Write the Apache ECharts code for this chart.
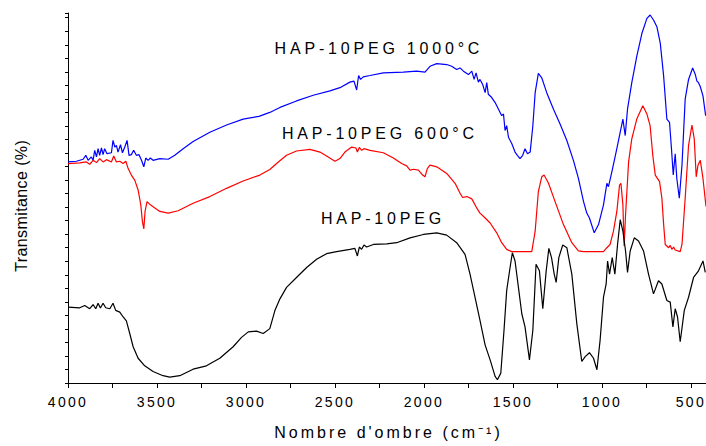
<!DOCTYPE html>
<html><head><meta charset="utf-8">
<script src="https://cdn.jsdelivr.net/npm/echarts@6/dist/echarts.min.js"></script>
<style>html,body{margin:0;padding:0;background:#fff}#c{width:706px;height:446px}</style>
</head><body><div id="c"></div>
<script>
// ---- tick marks / labels (wavenumber, cm-1) ----
const xTickValues = [4000,3750,3500,3250,3000,2750,2500,2250,2000,1750,1500,1250,1000,750,500];
const xTickLabels = [4000,3500,3000,2500,2000,1500,1000,500];

// ---- series labels ----
const seriesNames = ['HAP-10PEG 1000°C', 'HAP-10PEG 600°C', 'HAP-10PEG'];

// ---- HAP-10PEG (black) ----
const hapWn = [4000,3934,3906,3878,3859,3844,3831,3818,3803,3788,3765,3747,3732,3709,3690,3672,3653,3634,3606,3569,3522,3466,3428,3372,3297,3222,3147,3072,3025,2987,2941,2903,2866,2837,2809,2772,2716,2659,2603,2547,2491,2416,2388,2374,2363,2350,2337,2322,2284,2209,2153,2078,2003,1928,1872,1816,1769,1741,1713,1685,1656,1628,1600,1587,1568,1550,1535,1516,1503,1488,1469,1450,1432,1407,1388,1370,1351,1332,1313,1298,1283,1268,1257,1242,1220,1197,1169,1141,1113,1094,1070,1047,1028,1010,991,976,968,957,942,927,912,897,882,867,856,841,818,794,766,738,710,682,663,635,616,601,588,575,560,537,513,485,457,432,419];
const hapT = [5.61,5.56,5.73,5.49,5.80,5.49,5.90,5.54,5.90,5.56,5.49,5.90,5.37,5.24,4.88,4.59,3.66,2.68,1.83,1.27,0.85,0.54,0.44,0.54,1.02,1.27,1.83,2.68,3.37,3.78,3.83,3.66,4.02,5.37,6.22,7.07,7.80,8.54,9.15,9.56,9.71,9.88,9.95,9.39,10.05,9.88,10.20,10.05,10.24,10.29,10.37,10.73,10.98,11.10,10.93,10.37,9.51,8.05,6.34,4.63,2.80,1.71,0.49,0.24,0.73,3.90,6.83,8.54,9.63,9.02,7.07,5.12,4.15,1.71,3.90,8.78,8.29,5.49,8.29,9.95,9.27,8.05,7.44,9.27,10.20,10.00,8.05,4.39,1.59,1.95,2.24,1.83,0.98,3.17,6.34,7.32,9.02,8.05,9.27,8.05,10.24,12.07,11.22,9.76,8.17,9.76,10.73,10.49,9.76,8.05,6.59,7.56,7.32,6.10,5.98,4.15,5.49,4.88,3.05,5.37,6.34,7.80,8.29,9.02,8.17];

// ---- HAP-10PEG 600°C (red) ----
const h600Wn = [4000,3934,3897,3878,3859,3840,3822,3803,3784,3756,3743,3728,3709,3690,3675,3662,3644,3625,3606,3591,3582,3574,3567,3556,3537,3512,3484,3437,3381,3297,3203,3109,3016,2922,2866,2828,2772,2716,2641,2584,2538,2500,2472,2444,2406,2382,2374,2363,2350,2337,2303,2228,2172,2125,2097,2078,2059,2031,2007,1994,1981,1966,1928,1872,1825,1797,1782,1759,1731,1703,1685,1656,1628,1591,1563,1535,1507,1394,1375,1357,1338,1325,1300,1263,1216,1169,1132,1103,991,972,954,935,916,901,893,882,875,867,850,832,804,770,747,729,714,700,676,663,653,644,625,616,607,597,588,560,550,532,513,494,481,470,460,447,432,415];
const h600T = [16.22,16.27,16.34,16.17,16.46,16.29,16.59,16.34,16.51,16.34,16.78,16.34,16.39,16.22,16.39,15.85,15.37,15.00,14.27,13.17,11.95,11.39,12.68,13.41,13.17,12.93,12.68,12.56,12.73,13.29,13.78,14.39,14.93,15.37,15.78,16.22,16.83,17.15,17.27,17.07,16.71,16.39,16.59,17.07,17.44,17.37,17.07,17.41,17.20,17.32,17.20,17.02,16.63,16.22,16.05,15.73,15.80,15.73,15.37,15.24,15.85,16.10,15.98,15.49,14.76,14.02,13.71,13.78,13.61,12.93,12.56,12.20,11.83,11.10,10.37,9.88,9.71,9.71,11.22,14.15,15.24,15.37,14.76,13.41,11.71,10.37,9.76,9.71,9.71,10.00,10.24,11.22,12.68,14.63,14.76,13.17,10.12,12.44,16.34,18.05,19.51,20.49,19.88,19.02,16.83,15.37,14.88,13.66,11.71,10.24,10.00,10.17,9.88,10.05,9.83,9.71,10.24,13.66,17.56,19.07,18.05,15.24,16.10,16.46,15.12,13.05];

// ---- HAP-10PEG 1000°C (blue) ----
const h1000Wn = [4000,3953,3915,3900,3887,3869,3859,3850,3840,3831,3822,3812,3803,3794,3781,3756,3747,3737,3728,3719,3705,3694,3681,3668,3657,3644,3631,3616,3601,3587,3574,3563,3550,3537,3522,3484,3437,3400,3353,3297,3203,3109,3016,2927,2866,2809,2716,2622,2528,2472,2416,2393,2378,2367,2356,2341,2303,2228,2116,2041,1994,1966,1928,1872,1844,1816,1797,1778,1750,1731,1718,1707,1694,1685,1670,1656,1647,1638,1619,1600,1581,1563,1553,1544,1535,1525,1506,1488,1475,1460,1445,1432,1418,1403,1388,1375,1357,1338,1310,1272,1235,1197,1160,1132,1103,1085,1070,1043,1019,991,972,963,944,916,897,882,869,856,832,804,775,747,729,710,691,672,653,635,620,609,599,588,579,565,550,532,513,490,475,466,457,447,432,417];
const h1000T = [16.34,16.39,16.54,16.83,16.46,16.71,16.46,17.20,16.71,17.32,16.83,17.37,16.88,17.32,16.95,17.02,17.93,17.44,17.56,17.07,17.61,17.02,17.44,17.93,16.83,16.88,17.20,16.83,16.88,16.46,15.98,16.63,16.46,16.63,16.46,16.59,16.54,16.83,17.32,17.85,18.54,19.07,19.51,19.71,20.00,20.37,20.85,21.27,21.59,21.83,22.24,22.32,21.66,22.73,22.44,22.63,22.73,22.93,22.98,23.05,22.98,23.41,23.61,23.54,23.41,23.17,23.29,23.05,22.80,23.05,22.44,22.93,22.24,22.44,22.07,21.46,22.20,21.34,21.10,20.73,20.24,19.76,19.88,18.66,19.02,18.17,17.68,17.07,16.83,16.59,16.83,17.32,16.95,17.07,19.02,21.46,22.88,22.56,21.46,20.24,19.15,17.93,16.46,15.12,13.41,12.56,12.20,11.10,11.71,13.17,14.76,14.51,15.61,17.32,18.54,19.51,18.29,20.24,22.20,24.15,25.85,26.95,27.20,26.83,26.34,25.12,22.68,19.51,19.27,17.32,15.37,16.95,15.12,13.66,16.10,20.98,22.44,23.29,22.80,22.32,22.20,21.90,21.22,19.76];

const pairs = (w, t) => w.map((x, i) => [x, t[i]]);
const FONT = "'Liberation Sans', Arial, sans-serif";

const chart = echarts.init(document.getElementById('c'), null, {renderer: 'svg', width: 706, height: 446});
chart.setOption({
  animation: false,
  backgroundColor: '#ffffff',
  grid: {left: 68, right: 0, top: 13, bottom: 59, containLabel: false},
  xAxis: {
    type: 'value', inverse: true, min: 415, max: 4000,
    name: "Nombre d'ombre (cm⁻¹)", nameLocation: 'middle', nameGap: 40,
    nameTextStyle: {fontFamily: FONT, fontSize: 16, color: '#000', lineHeight: 18},
    axisLine: {show: true, lineStyle: {color: '#000', width: 1}},
    axisTick: {show: true, length: 5, lineStyle: {color: '#000'}, customValues: xTickValues},
    axisLabel: {show: true, fontFamily: FONT, fontSize: 14, color: '#000', margin: 12,
                customValues: xTickLabels, formatter: v => String(v)},
    splitLine: {show: false}
  },
  yAxis: {
    type: 'value', min: 0, max: 27.35, interval: 1,
    axisLine: {show: true, lineStyle: {color: '#000', width: 1}},
    axisTick: {show: true, length: 3, lineStyle: {color: '#000'}},
    axisLabel: {show: false},
    splitLine: {show: false}
  },
  graphic: [
    {type: 'text', x: 21, y: 206, rotation: Math.PI / 2,
     style: {text: 'Transmitance (%)', fill: '#000', font: '16px ' + FONT, align: 'center', verticalAlign: 'middle', textAlign: 'center', textVerticalAlign: 'middle'}},
    {type: 'text', x: 377, y: 48.5,
     style: {text: seriesNames[0], fill: '#000', font: '16px ' + FONT, align: 'center', verticalAlign: 'middle', textAlign: 'center', textVerticalAlign: 'middle'}},
    {type: 'text', x: 378, y: 133.5,
     style: {text: seriesNames[1], fill: '#000', font: '16px ' + FONT, align: 'center', verticalAlign: 'middle', textAlign: 'center', textVerticalAlign: 'middle'}},
    {type: 'text', x: 381, y: 218.7,
     style: {text: seriesNames[2], fill: '#000', font: '16px ' + FONT, align: 'center', verticalAlign: 'middle', textAlign: 'center', textVerticalAlign: 'middle'}}
  ],
  series: [
    {name: seriesNames[0], type: 'line', data: pairs(h1000Wn, h1000T), showSymbol: false, symbol: 'none',
     lineStyle: {color: '#0000ff', width: 1.2}, itemStyle: {color: '#0000ff'}, silent: true, clip: true},
    {name: seriesNames[1], type: 'line', data: pairs(h600Wn, h600T), showSymbol: false, symbol: 'none',
     lineStyle: {color: '#ff0000', width: 1.2}, itemStyle: {color: '#ff0000'}, silent: true, clip: true},
    {name: seriesNames[2], type: 'line', data: pairs(hapWn, hapT), showSymbol: false, symbol: 'none',
     lineStyle: {color: '#000000', width: 1.2}, itemStyle: {color: '#000000'}, silent: true, clip: true}
  ]
});

// The reference typesetting uses wide letter spacing; apply it to the SVG text nodes.
function applySpacing() {
  document.querySelectorAll('#c svg text').forEach(t => {
    const s = t.textContent || '';
    let ls = null, shift = true;
    if (/^\d+$/.test(s)) { ls = 2.3; shift = false; }
    else if (s.indexOf('HAP') === 0) ls = 3.8;
    else if (s.indexOf('Nombre') === 0) ls = 3;
    else if (s.indexOf('Transmit') === 0) ls = 0.4;
    if (ls !== null) {
      t.style.letterSpacing = ls + 'px';
      if (shift) t.setAttribute('dx', (ls / 2).toFixed(2));
    }
  });
}
applySpacing();
chart.on('finished', applySpacing);
setTimeout(applySpacing, 50);
setTimeout(applySpacing, 300);
</script>
</body></html>
